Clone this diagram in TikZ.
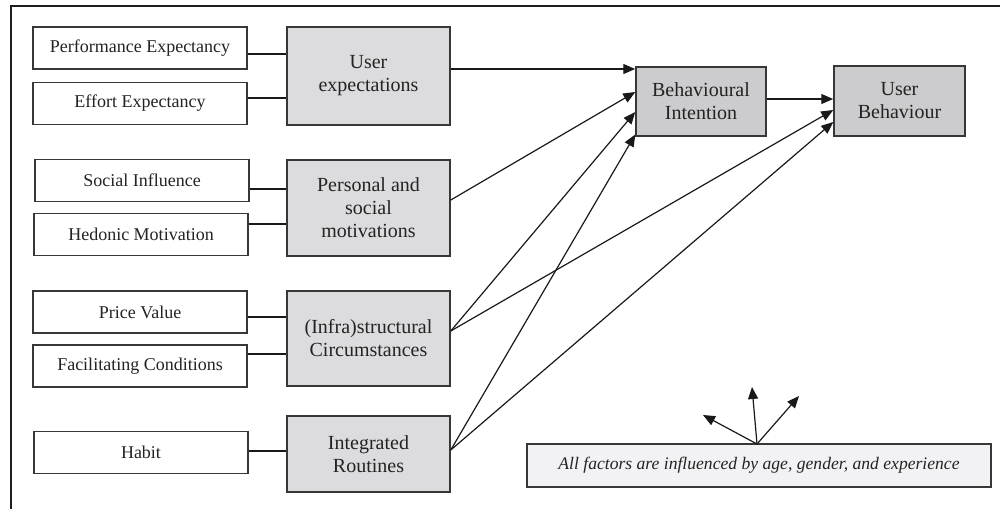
\documentclass[tikz,border=0pt]{standalone}
\usepackage{fontspec}
\setmainfont{Liberation Serif}
\usetikzlibrary{arrows.meta,calc}
\definecolor{framegray}{RGB}{30,30,30}
\definecolor{edgegray}{RGB}{55,55,55}
\definecolor{inkgray}{RGB}{35,35,35}
\definecolor{groupfill}{RGB}{220,220,222}
\definecolor{outfill}{RGB}{204,204,206}
\definecolor{notefill}{RGB}{242,242,244}
\tikzset{
  factor/.style={draw=edgegray,line width=0.75pt,fill=white,text=inkgray,minimum width=107pt,minimum height=21pt,inner sep=0pt,font=\fontsize{9}{11}\selectfont},
  group/.style={draw=edgegray,line width=0.75pt,fill=groupfill,text=inkgray,minimum width=81.5pt,inner sep=0pt,align=center,font=\fontsize{10}{11.5}\selectfont},
  outcome/.style={group,fill=outfill},
  link/.style={line width=0.6pt,draw=black!90},
  flow/.style={link,-{Triangle[length=6pt,width=5pt]}}
}

\begin{document}
\begin{tikzpicture}[x=0.5pt,y=-0.5pt]
  \useasboundingbox (0,0) rectangle (1000,509);
  \draw[framegray,line width=1pt] (11,509) -- (11,6) -- (1000,6);

  \foreach \n/\x/\y/\l in {pe/140/48/Performance Expectancy,ee/140/103.5/Effort Expectancy,
    si/142/180.5/Social Influence,hm/141/234.5/Hedonic Motivation,pv/140/312/Price Value,
    fc/140/366/Facilitating Conditions,hb/141/452.5/Habit}
    \node[factor] (\n) at (\x,\y) {\l};

  \node[group,minimum height=49pt] (ue) at (368.5,76) {User\\expectations};
  \node[group,minimum height=48pt] (psm) at (368.5,208) {Personal and\\social\\motivations};
  \node[group,minimum height=47.5pt] (isc) at (368.5,338.5) {(Infra)structural\\Circumstances};
  \node[group,minimum height=38pt] (ir) at (368.5,454) {Integrated\\Routines};

  \node[outcome,minimum width=65pt,minimum height=34.5pt] (bi) at (701,101.5) {Behavioural\\Intention};
  \node[outcome,minimum width=65.5pt,minimum height=35pt] (ub) at (899.5,101) {User\\Behaviour};

  \foreach \a/\d/\b in {pe/6/ue,ee/-5.5/ue,si/8.5/psm,hm/-10.5/psm,pv/5/isc,fc/-12/isc,hb/-1.5/ir}{
    \coordinate (s) at ($(\a.east)+(0,\d)$);
    \draw[link] (s) -- (s -| \b.west);
  }

  \foreach \a/\sa/\b/\sb in {ue/-7/bi/-32.5,psm/-8/bi/-9.5,isc/-7.5/bi/10.5,isc/-7.5/ub/9,
    ir/-4/bi/33,ir/-4/ub/21,bi/-2.5/ub/-2}
    \draw[flow] ($(\a.east)+(0,\sa)$) -- ($(\b.west)+(0,\sb)$);

  \node[draw=edgegray,line width=0.75pt,fill=notefill,text=inkgray,minimum width=232pt,minimum height=21.5pt,
    inner sep=0pt,font=\fontsize{8.8}{10}\selectfont\itshape] (note) at (759,465.5)
    {All factors are influenced by age, gender, and experience};
  \coordinate (o) at (757,444);
  \foreach \t/\x/\y in {ta/703/415,tb/752/387,tc/799/396}{
    \coordinate (\t) at (\x,\y);
    \draw[flow] (o) -- (\t);
  }
\end{tikzpicture}
\end{document}
